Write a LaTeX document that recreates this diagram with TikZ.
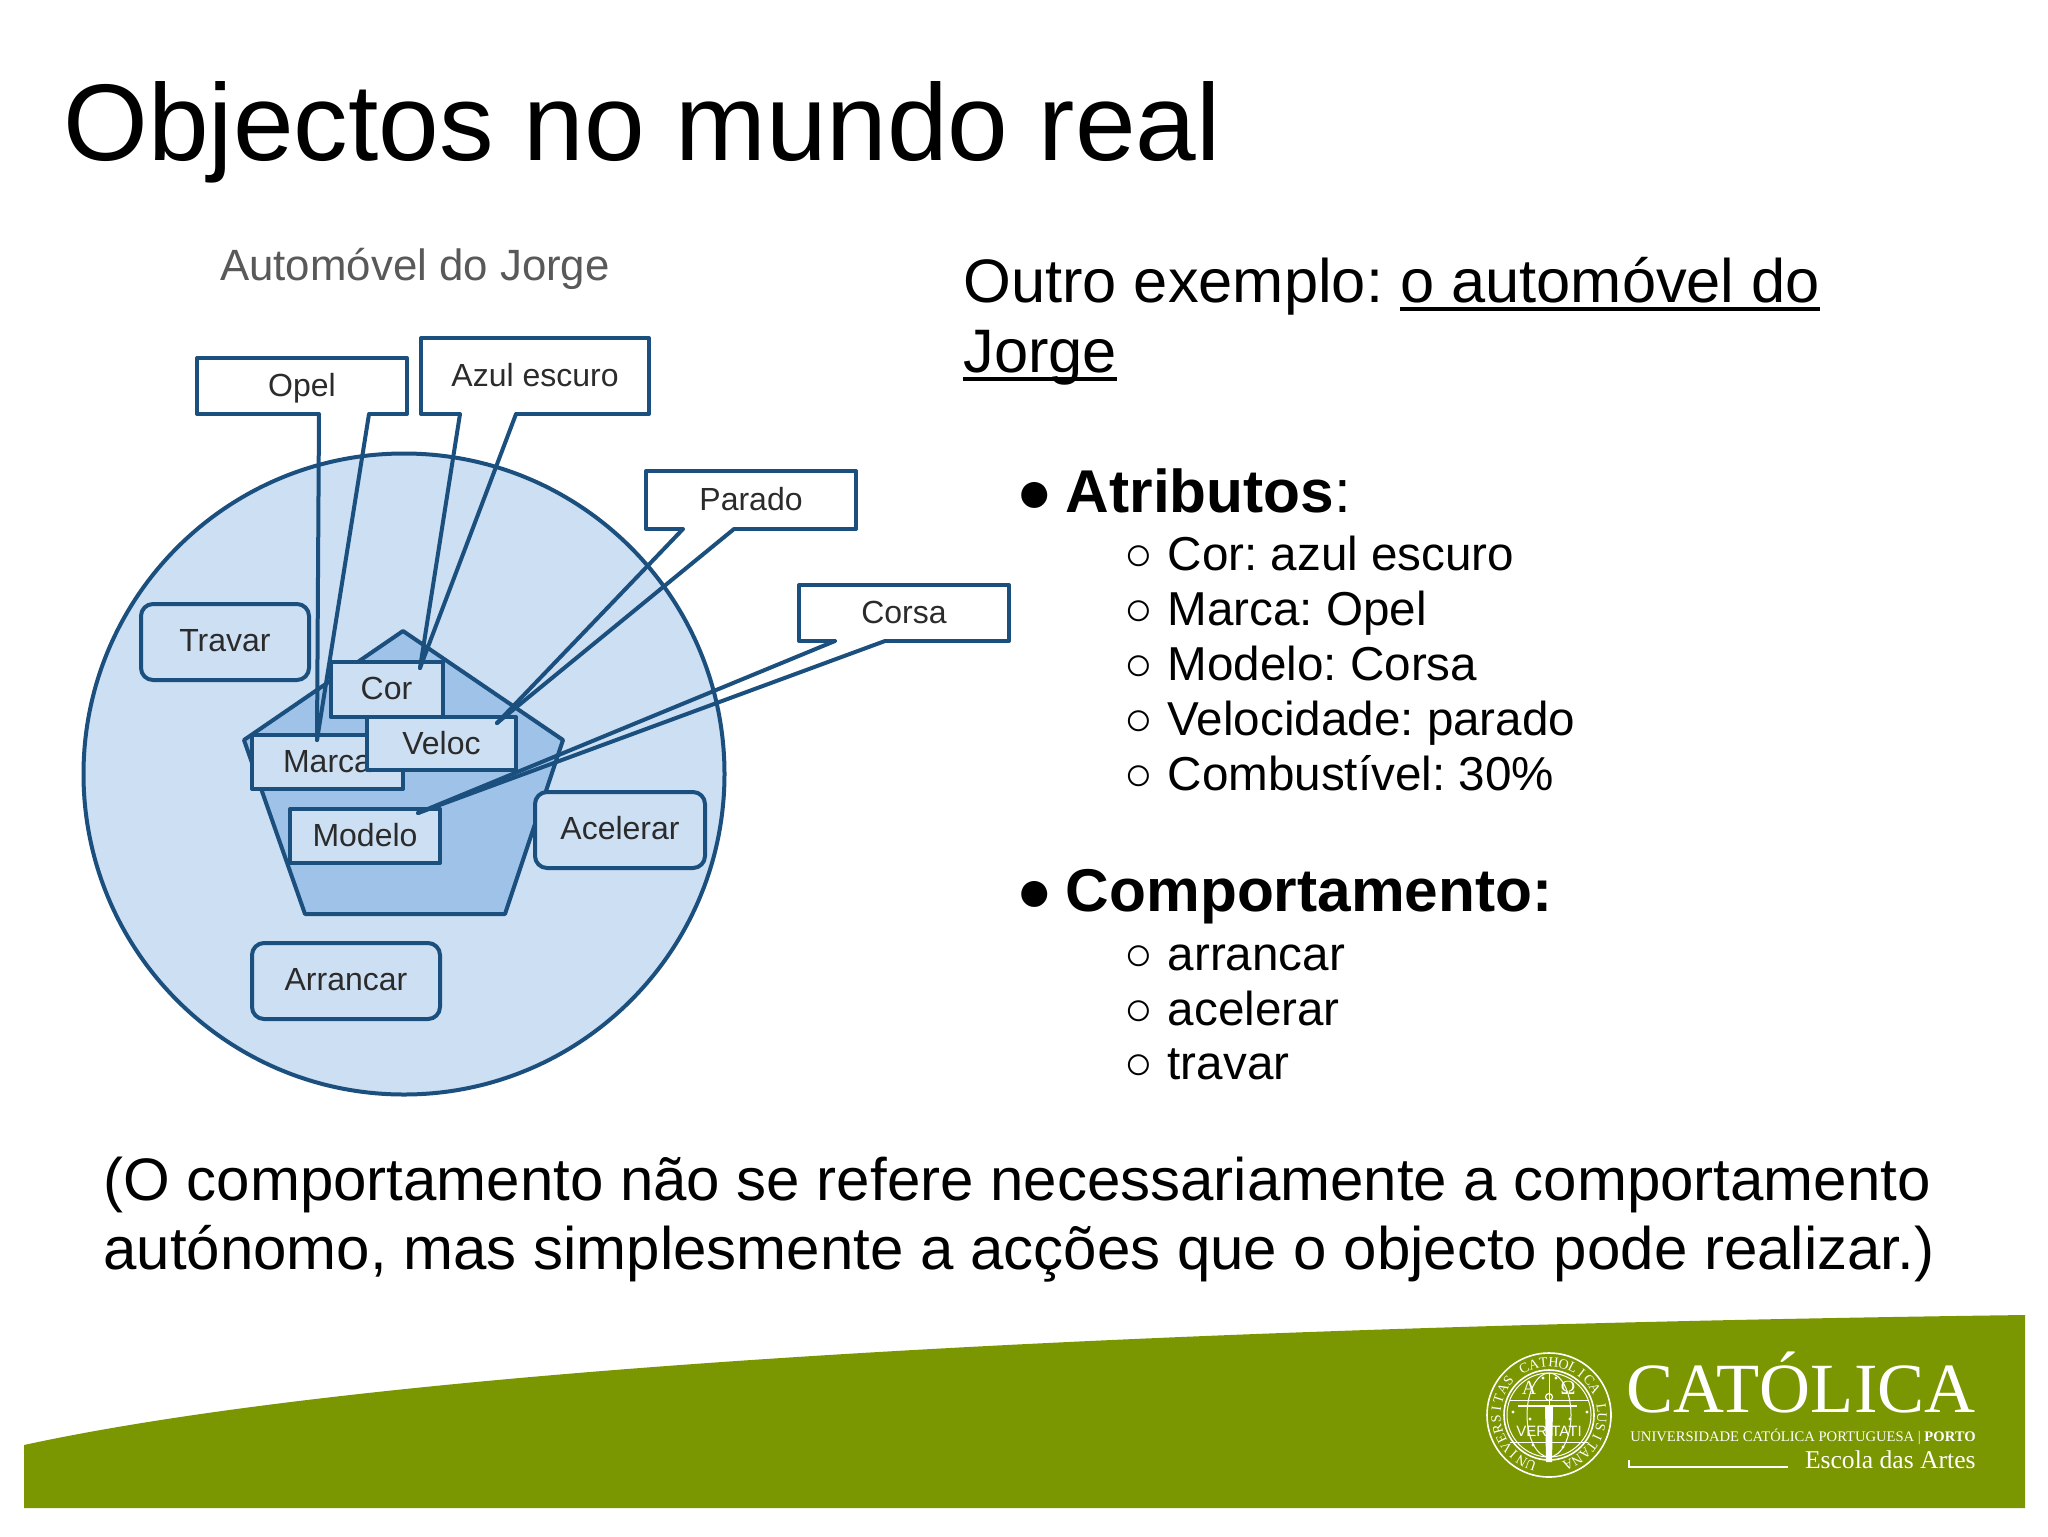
\documentclass[tikz,border=0pt]{standalone}
\usepackage{fontspec}
\setmainfont{Liberation Sans}
\newfontfamily\seriffont{Liberation Serif}
\usetikzlibrary{calc}
\definecolor{lineblue}{HTML}{1B4F7E}
\definecolor{circleblue}{HTML}{CCDFF3}
\definecolor{pentablue}{HTML}{9FC3E8}
\definecolor{bandgreen}{HTML}{7A9600}
\definecolor{labelgrey}{HTML}{2B2B2B}
\newcommand{\fsz}[1]{\fontsize{#1}{#1}\selectfont}
\newcommand{\ulined}[1]{\setbox0=\hbox{#1}\rlap{\rule[-4.5pt]{\wd0}{2pt}}#1}
\tikzset{
    plaintext/.style={anchor=base west, inner sep=0pt, text=black},
    title/.style={plaintext, font=\fsz{54.5}},
    big/.style={plaintext, font=\fsz{30.7}},
    head/.style={plaintext, font=\fsz{30.2}},
    small/.style={plaintext, font=\fsz{23.8}},
    note/.style={plaintext, font=\fsz{30}},
    shapeline/.style={draw=lineblue, line width=2pt, line join=round},
    labelbox/.style={shapeline, inner sep=0pt, text=labelgrey, font=\fsz{16}, text height=11pt, text depth=0.5pt},
    attrbox/.style={labelbox, fill=circleblue},
    methodbox/.style={labelbox, fill=circleblue, rounded corners=6pt, text depth=1.5pt},
    callbox/.style={labelbox, fill=white},
    calltail/.style={draw=lineblue, line width=2pt, line cap=round},
    callgap/.style={draw=white, line width=2.8pt},
    logotext/.style={inner sep=0pt, text=white, anchor=base east},
    sealline/.style={draw=white, line width=0.5pt},
}
\begin{document}
\frenchspacing
\begin{tikzpicture}[x=0.5pt, y=-0.5pt]
    \useasboundingbox (0,0) rectangle (2048,1536);
    \fill[white] (0,0) rectangle (2048,1536);

    \node[title] (heading) at (63,160) {Objectos no mundo real};
    \node[anchor=base, inner sep=0pt, text=black!65, font=\fsz{21.9}] (jorge) at (415,280) {Automóvel do Jorge};

    \path[shapeline, fill=circleblue] (404,774) circle [radius=320.5];
    \path[shapeline, fill=pentablue] (403,631) -- (563,740) -- (505,914) -- (305,914) -- (244,740) -- cycle;

    \node[methodbox, minimum width=84pt, minimum height=38pt] (travar) at (225,642) {Travar};
    \node[methodbox, minimum width=85pt, minimum height=38pt] (acelerar) at (620,830) {Acelerar};
    \node[methodbox, minimum width=94pt, minimum height=38pt] (arrancar) at (346,981) {Arrancar};

    \node[attrbox, minimum width=56pt, minimum height=27.5pt] (cor) at (386.5,689) {Cor};
    \node[attrbox, minimum width=75.5pt, minimum height=27pt] (marca) at (327.5,762) {Marca};
    \node[attrbox, minimum width=74.5pt, minimum height=26.5pt] (veloc) at (441.5,743.5) {Veloc};
    \node[attrbox, minimum width=75pt, minimum height=27pt] (modelo) at (365,836) {Modelo};

    \node[callbox, minimum width=105pt, minimum height=28pt] (opel) at (302,386) {Opel};
    \node[callbox, minimum width=114pt, minimum height=38pt] (azul) at (535,376) {Azul escuro};
    \node[callbox, minimum width=105pt, minimum height=29pt] (parado) at (751,500) {Parado};
    \node[callbox, minimum width=105pt, minimum height=28pt] (corsa) at (904,613) {Corsa};

    \coordinate (opelleft) at (319,414);
    \coordinate (opelright) at (369,414);
    \coordinate (opeltip) at (317,740);
    \coordinate (azulleft) at (460,414);
    \coordinate (azulright) at (516,414);
    \coordinate (azultip) at (420,668);
    \coordinate (paradoleft) at (683,529);
    \coordinate (paradoright) at (734,529);
    \coordinate (paradotip) at (497,723);
    \coordinate (corsaleft) at (835,641);
    \coordinate (corsaright) at (885,641);
    \coordinate (corsatip) at (418,813);

    \path[callgap]
      (opelleft) edge (opelright)
      (azulleft) edge (azulright)
      (paradoleft) edge (paradoright)
      (corsaleft) edge (corsaright);
    \path[calltail]
    (opeltip) edge (opelleft)
              edge (opelright)
    (azultip) edge (azulleft)
              edge (azulright)
    (paradotip) edge (paradoleft)
                edge (paradoright)
    (corsatip) edge (corsaleft)
               edge (corsaright);

    \node[big] (intro) at (963,302) {Outro exemplo: \ulined{o automóvel do}};
    \node[big] (introb) at (963,372) {\ulined{Jorge}};

    \node[head] (attrs) at (1016,512) {●\hspace{6.5pt}\textbf{Atributos}:};
    \node[small] (attra) at (1124,570) {○\hspace{7.3pt}Cor: azul escuro};
    \node[small] (attrb) at (1124,625) {○\hspace{7.3pt}Marca: Opel};
    \node[small] (attrc) at (1124,680) {○\hspace{7.3pt}Modelo: Corsa};
    \node[small] (attrd) at (1124,735) {○\hspace{7.3pt}Velocidade: parado};
    \node[small] (attre) at (1124,790) {○\hspace{7.3pt}Combustível: 30\%};

    \node[head] (comps) at (1016,911) {●\hspace{6.5pt}\textbf{Comportamento:}};
    \node[small] (compa) at (1124,970) {○\hspace{7.3pt}arrancar};
    \node[small] (compb) at (1124,1025) {○\hspace{7.3pt}acelerar};
    \node[small] (compc) at (1124,1079) {○\hspace{7.3pt}travar};

    \node[note] (notea) at (103,1200) {(O comportamento não se refere necessariamente a comportamento};
    \node[note] (noteb) at (103,1269) {autónomo, mas simplesmente a acções que o objecto pode realizar.)};

    \fill[bandgreen] (24,1445) .. controls (300,1385) and (900,1330) .. (2025,1315) -- (2025,1508) -- (24,1508) -- cycle;

    \node[logotext, font=\seriffont\fsz{35.3}] (catolica) at (1976,1412) {CATÓLICA};
    \node[logotext, font=\seriffont\fsz{7.3}] (univ) at (1976,1441) {UNIVERSIDADE CATÓLICA PORTUGUESA | \textbf{PORTO}};
    \node[logotext, font=\seriffont\fsz{12.8}] (escola) at (1976,1468) {Escola das Artes};
    \draw[white, line width=1pt] (1629,1460) -- (1629,1467) -- (1788,1467);

    \path[sealline, line width=0.8pt] (1549,1415) circle [radius=62];
    \path[sealline, line width=0.8pt] (1549,1415) circle [radius=45];
    \path[sealline] (1549,1415) circle [radius=42];
    \path[sealline] (1549,1415) ellipse [x radius=22, y radius=42];
    \path[sealline] (1510,1400) -- (1588,1400) (1510,1442) -- (1588,1442) (1549,1373) -- (1549,1457);
    \foreach \ch [count=\i from 0] in {U,N,I,V,E,R,S,I,T,A,S,{},C,A,T,H,O,L,I,C,A,{},L,U,S,I,T,A,N,A}
        \node[inner sep=0pt, text=white, font=\seriffont\fsz{7}, rotate={250-\i*11-90}] (seal-\i)
            at ({1549+53*cos(250-\i*11)},{1415-53*sin(250-\i*11)}) {\ch};
    \node[inner sep=0pt, text=white, font=\fsz{7.5}] (veritati) at (1549,1431) {VERITATI};
    \node[inner sep=0pt, text=white, font=\seriffont\fsz{10}] (alfa) at (1529,1388) {A};
    \node[inner sep=0pt, text=white, font=\seriffont\fsz{10}] (omega) at (1568,1388) {Ω};
    \draw[white, line width=1.2pt] (1518,1406) -- (1577,1406);
    \fill[white] (1545,1406) -- (1553,1406) -- (1552,1462) -- (1546,1462) -- cycle;
    \draw[white, line width=0.6pt] (1549,1397) circle [radius=3.5];
    \foreach \x/\y in {1513/1412,1530/1419,1570/1419,1587/1412,1533/1445,1563/1447,1543/1378,1556/1378}
        \fill[white] (\x,\y) circle [radius=1.6];
\end{tikzpicture}
\end{document}
